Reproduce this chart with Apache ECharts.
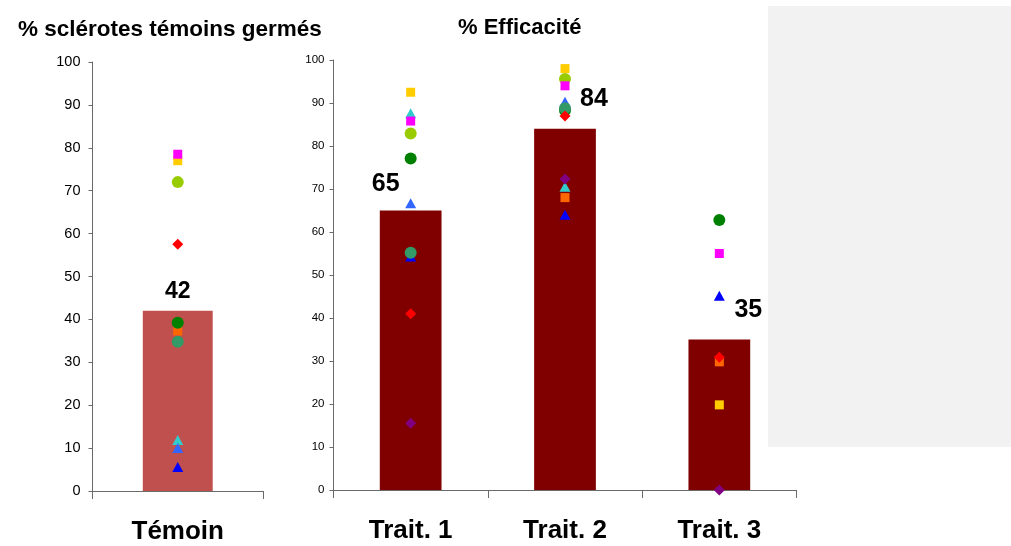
<!DOCTYPE html>
<html>
<head>
<meta charset="utf-8">
<script src="https://cdn.jsdelivr.net/npm/echarts@6/dist/echarts.min.js"></script>
<style>
html,body{margin:0;padding:0;background:#fff;}
#c{width:1011px;height:546px;}
</style>
</head>
<body>
<div id="c"></div>
<script>
// ---- data ----
const temoinCategories = ['Témoin'];
const traitCategories = ['Trait. 1', 'Trait. 2', 'Trait. 3'];
const temoinBar = [42];
const efficacyBars = [65, 84, 35];
const leftTitle = '% sclérotes témoins germés';
const rightTitle = '% Efficacité';
// individual replicates: [Témoin, Trait. 1, Trait. 2, Trait. 3]
const yellowSquare      = [77,   92.5, 98,   19.8];
const cyanTriangle      = [11.9, 87.6, 70.5, null];
const orangeSquare      = [37.3, null, 68,   29.8];
const royalBlueTriangle = [10,   66.7, 90.3, null];
const blueTriangle      = [5.6,  54.3, 64,   45.2];
const yellowGreenCircle = [72,   82.9, 95.6, null];
const greenCircle       = [39.2, 77.1, 88.3, 62.8];
const seaGreenCircle    = [34.8, 55.2, 88.8, null];
const redDiamond        = [57.5, 41,   87,   30.9];
const magentaSquare     = [78.5, 85.8, 94,   55];
const purpleDiamond     = [null, 15.5, 72.3, 0];

// ---- styling ----
const FONT = '"Liberation Sans", Arial, sans-serif';
const AX = '#6a6a6a';
const markers = [
  {v: yellowSquare, symbol: 'rect', size: 9, color: '#FFCC00'},
  {v: cyanTriangle, symbol: 'triangle', size: [11, 10], color: '#33CCCC'},
  {v: orangeSquare, symbol: 'rect', size: 9, color: '#FF6600'},
  {v: royalBlueTriangle, symbol: 'triangle', size: [11, 10], color: '#3366FF'},
  {v: blueTriangle, symbol: 'triangle', size: [11, 10], color: '#0000FF'},
  {v: yellowGreenCircle, symbol: 'circle', size: 12, color: '#99CC00'},
  {v: greenCircle, symbol: 'circle', size: 12, color: '#008000'},
  {v: seaGreenCircle, symbol: 'circle', size: 12, color: '#339966'},
  {v: redDiamond, symbol: 'diamond', size: [11, 11], color: '#FF0000'},
  {v: magentaSquare, symbol: 'rect', size: 9, color: '#FF00FF'},
  {v: purpleDiamond, symbol: 'diamond', size: [11, 11], color: '#800080'}
];
const leftLabelOffsets = [[0, -8]];
const rightLabelOffsets = [[-25, -14], [29, -17], [29, -17]];

const series = [];
series.push({
  type: 'bar', xAxisIndex: 0, yAxisIndex: 0, z: 1,
  barCategoryGap: '59%',
  itemStyle: {color: '#C0504D'},
  data: temoinBar.map((v, i) => ({value: v, label: {offset: leftLabelOffsets[i]}})),
  label: {show: true, position: 'top', distance: 0, fontSize: 23, fontWeight: 'bold', color: '#000', fontFamily: FONT}
});
series.push({
  type: 'bar', xAxisIndex: 1, yAxisIndex: 1, z: 1,
  barCategoryGap: '60%',
  itemStyle: {color: '#800000'},
  data: efficacyBars.map((v, i) => ({value: v, label: {offset: rightLabelOffsets[i]}})),
  label: {show: true, position: 'top', distance: 0, fontSize: 25, fontWeight: 'bold', color: '#000', fontFamily: FONT}
});
markers.forEach(m => {
  series.push({
    type: 'scatter', xAxisIndex: 0, yAxisIndex: 0, z: 3,
    symbol: m.symbol, symbolSize: m.size, itemStyle: {color: m.color, opacity: 1},
    data: temoinCategories.map((c, i) => [c, m.v[i]]).filter(d => d[1] !== null)
  });
  series.push({
    type: 'scatter', xAxisIndex: 1, yAxisIndex: 1, z: 3,
    symbol: m.symbol, symbolSize: m.size, itemStyle: {color: m.color, opacity: 1},
    data: traitCategories.map((c, i) => [c, m.v[i + 1]]).filter(d => d[1] !== null)
  });
});

const yAxisBase = (fs, margin) => ({
  type: 'value', min: 0, max: 100, interval: 10,
  axisLine: {show: true, lineStyle: {color: AX, width: 1}},
  axisTick: {show: true, length: 4, lineStyle: {color: AX}},
  splitLine: {show: false},
  axisLabel: {fontSize: fs, color: '#000', fontFamily: FONT, margin: margin}
});
const xAxisBase = (cats, fs) => ({
  type: 'category', data: cats,
  axisLine: {show: true, lineStyle: {color: AX, width: 1}},
  axisTick: {show: true, length: 8, lineStyle: {color: AX}},
  axisLabel: {fontSize: fs, fontWeight: 'bold', color: '#000', fontFamily: FONT, margin: 28}
});

const chart = echarts.init(document.getElementById('c'), null, {renderer: 'canvas'});
chart.setOption({
  backgroundColor: '#fff',
  animation: false,
  title: [
    {text: leftTitle, left: 13, top: 13, textStyle: {fontSize: 22.5, fontWeight: 'bold', color: '#000', fontFamily: FONT}},
    {text: rightTitle, left: 453, top: 12, textStyle: {fontSize: 22, fontWeight: 'bold', color: '#000', fontFamily: FONT}}
  ],
  graphic: [
    {type: 'rect', left: 768, top: 6, shape: {width: 243, height: 441}, style: {fill: '#F2F2F2'}, z: 0}
  ],
  grid: [
    {left: 92.5, width: 170.5, top: 62, bottom: 55, containLabel: false},
    {left: 333.5, width: 463, top: 60, bottom: 56, containLabel: false}
  ],
  xAxis: [
    Object.assign(xAxisBase(temoinCategories, 26), {gridIndex: 0}),
    Object.assign(xAxisBase(traitCategories, 26), {gridIndex: 1})
  ],
  yAxis: [
    Object.assign(yAxisBase(14.5, 12), {gridIndex: 0}),
    Object.assign(yAxisBase(11.5, 9), {gridIndex: 1})
  ],
  series: series
});
</script>
</body>
</html>
